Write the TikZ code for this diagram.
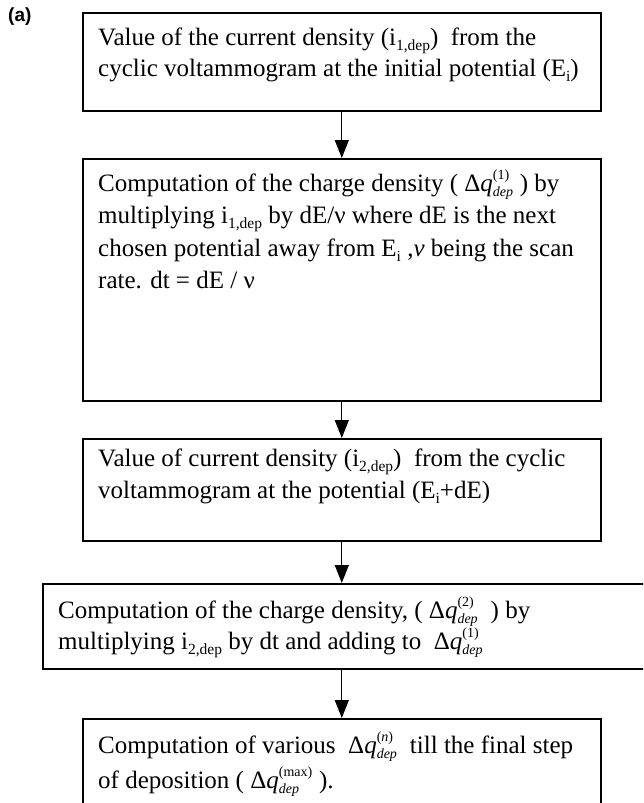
\documentclass[tikz,border=0pt]{standalone}
\usepackage{amsmath}
\usepackage{fontspec}
\setmainfont{Liberation Serif}
\setsansfont{Liberation Sans}
\usetikzlibrary{arrows.meta}
\DeclareMathSizes{25}{25}{14}{11}
\newcommand{\dqd}[1]{$\text{Δ}\textit{q}^{\text{(#1)}}_{\textit{dep}}$}
\newcommand{\sbs}[1]{\raisebox{-0.22em}{\fontsize{15.5}{15.5}\selectfont #1}}
\begin{document}
\begin{tikzpicture}[x=1pt,y=-1pt,
  box/.style={draw, line width=1.6pt, rectangle, inner sep=0pt, anchor=north west},
  txt/.style={anchor=base west, inner sep=0pt, font=\fontsize{25}{30}\selectfont},
  arr/.style={-{Triangle[length=18pt,width=14pt]}, line width=1.3pt}]
\useasboundingbox (0,0) rectangle (643,803);
\clip (0,0) rectangle (643,803);
\node[anchor=north west, inner sep=0pt, font=\sffamily\bfseries\fontsize{19}{22}\selectfont] (lab) at (8,8) {(a)};
% boxes
\node[box, minimum width=518pt, minimum height=98pt] (b1) at (82,12) {};
\node[box, minimum width=518pt, minimum height=242pt] (b2) at (82,158) {};
\node[box, minimum width=518pt, minimum height=102pt] (b3) at (82,438) {};
\node[box, minimum width=640pt, minimum height=85pt] (b4) at (42,583) {};
\node[box, minimum width=518pt, minimum height=130pt] (b5) at (82,718) {};
% texts
\node[txt] (t11) at (98,45) {Value of the current density (i\sbs{1,dep})\ \ from the};
\node[txt] (t12) at (98,76) {cyclic voltammogram at the initial potential (E\sbs{i})};
\node[txt] (t21) at (98,191) {Computation of the charge density ( \dqd{1} ) by};
\node[txt] (t22) at (98,223) {multiplying i\sbs{1,dep} by dE/ν where dE is the next};
\node[txt] (t23) at (98,256) {chosen potential away from E\sbs{i} ,\textit{ν} being the scan};
\node[txt] (t24) at (98,288) {rate. dt = dE / ν};
\node[txt] (t31) at (98,466) {Value of current density (i\sbs{2,dep})\ \ from the cyclic};
\node[txt] (t32) at (98,498) {voltammogram at the potential (E\sbs{i}+dE)};
\node[txt] (t41) at (58,618) {Computation of the charge density, ( \dqd{2}\ \ ) by};
\node[txt] (t42) at (58,649) {multiplying i\sbs{2,dep} by dt and adding to\ \ \dqd{1}};
\node[txt] (t51) at (98,753) {Computation of various\ \ $\text{Δ}\textit{q}^{\text{(\textit{n})}}_{\textit{dep}}$\ \ till the final step};
\node[txt] (t52) at (98,788) {of deposition ( \dqd{max} ).};
% arrows
\draw[arr] (b1.south) -- (b2.north);
\draw[arr] (b2.south) -- (b3.north);
\draw[arr] (b3.south) -- (b3.south |- b4.north);
\draw[arr] (b3.south |- b4.south) -- (b5.north);
\end{tikzpicture}
\end{document}
